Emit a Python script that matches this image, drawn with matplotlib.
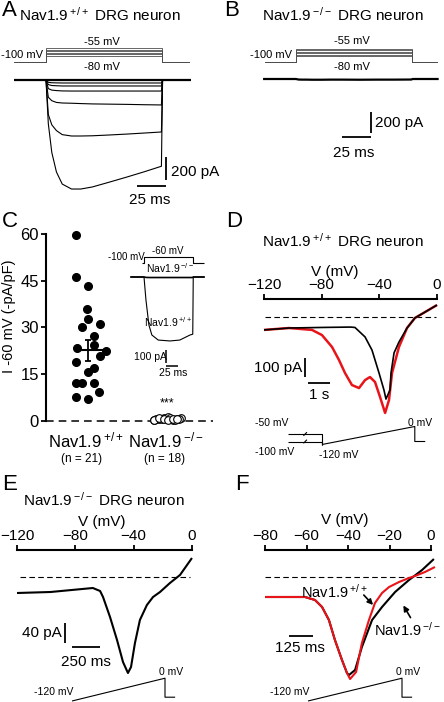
import matplotlib
matplotlib.use('Agg')
import matplotlib.pyplot as plt

plt.rcParams['font.family'] = ['Liberation Sans Narrow', 'Liberation Sans', 'DejaVu Sans']
plt.rcParams['mathtext.default'] = 'regular'

W, H = 444, 702
RED = '#e8141a'

# ---- A / B : step protocol and currents (ms, mV, pA) ----
hold_mv = -100
step_mv = [-80, -75, -70, -65, -60, -55]
t_step = [-27, 0, 2, 5, 9, 14, 22, 30, 40, 55, 70, 85, 99.5, 100.5, 125]
a_i80 = [0, 0, -20, -24, -25, -26, -26, -26, -26, -26, -26, -26, -26, 0, 0]
a_i75 = [0, 0, -40, -48, -50, -52, -52, -52, -52, -52, -52, -52, -52, 0, 0]
a_i70 = [0, 0, -75, -88, -92, -95, -96, -96, -96, -96, -96, -96, -96, 0, 0]
a_i65 = [0, 0, -150, -180, -195, -200, -202, -205, -208, -210, -212, -215, -217, 0, 0]
a_i60 = [0, 0, -300, -390, -440, -475, -487, -487, -485, -478, -470, -461, -452, 0, 0]
a_i55 = [0, 0, -380, -630, -800, -905, -948, -948, -930, -887, -843, -797, -750, 0, 0]
b_i = [0, 0, -5, -6, -6, -7, -7, -6, -6, -7, -6, -6, -5, 0, 0]

# ---- C : current density at -60 mV (-pA/pF) ----
c_wt = [59.6, 46.2, 43.3, 35.9, 32.7, 31.1, 30.1, 27.2, 24.4, 23.4, 22.4,
        20.8, 18.9, 17.0, 15.7, 12.2, 12.2, 12.2, 9.3, 7.7, 7.1]
c_ko = [0.3, 0.6, 0.9, 1.2, 0.4, 0.7, 1.0, 0.5, 0.8, 1.1, 0.2, 0.6,
        0.3, 0.9, 0.5, 0.4, 0.8, 0.6]
c_wt_mean, c_wt_sem = 22.7, 3.4
c_groups = ['Nav1.9$\\,^{+/+}$', 'Nav1.9$\\,^{-/-}$']
c_n = ['(n = 21)', '(n = 18)']
# inset (-60 mV step, 100 ms)
ci_t = [-28, 0, 4, 10, 16, 29, 53, 73, 94, 99.5, 100.5, 124]
ci_wt = [0, 0, -177, -369, -446, -485, -492, -485, -446, -440, 0, 0]
ci_ko = [0, 0, -3, -4, -4, -4, -4, -4, -4, -4, 0, 0]

# ---- D : ramp currents, Nav1.9+/+ (mV, pA) ----
d_v_k = [-120, -102.6, -80, -60, -56.9, -49.9, -45.1, -40.2, -36.8, -35.4,
         -32.6, -31.9, -29.8, -26.4, -20.8, -15.3, -8.3, 0]
d_i_k = [-68, -58, -55, -53, -55, -105, -174, -295, -384, -432,
         -384, -295, -189, -132, -58, -5, 26, 63]
d_v_r = [-120, -102.6, -86.7, -79.8, -72.8, -68, -63.8, -59, -54.1, -49.9,
         -46.5, -43, -39.5, -36, -33.3, -31.2, -26.4, -20.8, -15.3, -8.3, 0]
d_i_r = [-68, -58, -68, -95, -158, -226, -295, -358, -374, -332,
         -316, -342, -421, -505, -437, -295, -158, -58, -5, 26, 63]
d_ramp_s = 8.0

# ---- E : ramp current, Nav1.9-/- (mV, pA) ----
e_v = [-120, -97, -68, -63, -61, -56.2, -51.4, -47.3, -43.9, -41.8, -39.1,
       -35.7, -30.9, -26.7, -21.9, -15.1, -8.2, 0]
e_i = [-32, -30, -22, -28, -40, -80, -126, -170, -192, -180, -132,
       -86, -56, -40, -30, -12, 4, 38]
e_ramp_ms = 1560

# ---- F : normalised ramp currents ----
f_v_k = [-80, -60.7, -55.9, -52.5, -49.2, -46.3, -42.9, -40.5, -39.5, -36.6,
         -33.3, -28.4, -23.6, -17.3, -10.6, -4.3, 1.4]
f_i_k = [-0.20, -0.20, -0.23, -0.30, -0.43, -0.63, -0.83, -0.96, -0.98, -0.93,
         -0.70, -0.43, -0.30, -0.15, -0.03, 0.07, 0.18]
f_v_r = [-80, -60.7, -55.9, -52.5, -49.2, -46.3, -42.9, -40.5, -39.0, -36.1,
         -33.3, -29.9, -27.0, -23.6, -20.2, -15.4, -10.6, -7.7, -2.9, 1.9]
f_i_r = [-0.20, -0.20, -0.23, -0.30, -0.43, -0.63, -0.83, -0.96, -1.02, -0.95,
         -0.66, -0.43, -0.26, -0.16, -0.10, -0.05, -0.01, 0.01, 0.05, 0.10]
f_ramp_ms = 1300

WT_TITLE = 'Nav1.9$\\,^{+/+}$ DRG neuron'
KO_TITLE = 'Nav1.9$\\,^{-/-}$ DRG neuron'

fig = plt.figure(figsize=(W / 100, H / 100), dpi=100)


def put(px, py, s, size=8, ha='center', va='center', **kw):
    fig.text(px / W, 1 - py / H, s, fontsize=size, ha=ha, va=va, **kw)


def make_ax(rect, xref, sx, yref, sy):
    # rect = image pixels (left, top, right, bottom); xref/yref = (pixel, value)
    l, t, r, b = rect
    ax = fig.add_axes([l / W, 1 - b / H, (r - l) / W, (b - t) / H])
    ax.set_xlim(xref[1] + (l - xref[0]) / sx, xref[1] + (r - xref[0]) / sx)
    ax.set_ylim(yref[1] - (b - yref[0]) / sy, yref[1] + (yref[0] - t) / sy)
    ax.patch.set_visible(False)
    for s in ax.spines.values():
        s.set_visible(False)
    ax.set_xticks([])
    ax.set_yticks([])
    return ax


def line(ax, x, y, **kw):
    kw.setdefault('color', 'k')
    kw.setdefault('lw', 1.0)
    ax.plot(x, y, clip_on=False, solid_capstyle='butt', **kw)


# panel letters
for lab, px, py in [('A', 2, 11), ('B', 224, 11), ('C', 2, 221),
                    ('D', 226, 221), ('E', 2, 484), ('F', 235, 484)]:
    put(px, py, lab, size=16, ha='left')

# ================= A =================
put(100, 15, WT_TITLE, size=11)
apA = make_ax((10, 40, 200, 66), (46, 0), 1.16, (62, hold_mv), 0.311)
for v in step_mv:
    line(apA, [-27.6, 0, 0, 100, 100, 123], [hold_mv, hold_mv, v, v, hold_mv, hold_mv],
         color='0.3', lw=0.6)
put(22, 55, '-100 mV', size=8)
put(102, 42, '-55 mV', size=8)
put(102, 67, '-80 mV', size=8)

axA = make_ax((10, 66, 200, 200), (46, 0), 1.16, (80, 0), 0.115)
for tr in [a_i80, a_i75, a_i70, a_i65, a_i60, a_i55]:
    line(axA, t_step, tr, lw=0.8)
line(axA, [-28, 125], [0, 0], lw=1.6)
line(axA, [103.4, 103.4], [-670, -870], lw=1.3)
line(axA, [78.4, 103.4], [-922, -922], lw=1.3)
put(171, 172, '200 pA', size=11, ha='left')
put(150, 200, '25 ms', size=11)

# ================= B =================
put(343, 15, KO_TITLE, size=11)
apB = make_ax((250, 40, 444, 66), (296, 0), 1.16, (62, hold_mv), 0.289)
for v in step_mv:
    line(apB, [-26.7, 0, 0, 100, 100, 121.5], [hold_mv, hold_mv, v, v, hold_mv, hold_mv],
         color='0.3', lw=0.6)
put(271, 55, '-100 mV', size=8)
put(352, 41, '-55 mV', size=8)
put(352, 67, '-80 mV', size=8)

axB = make_ax((250, 66, 444, 200), (296, 0), 1.16, (79, 0), 0.105)
line(axB, [-28.4] + t_step[1:-1] + [123], b_i, lw=1.6)
line(axB, [64.5, 64.5], [-314, -514], lw=1.3)
line(axB, [39.5, 64.5], [-552, -552], lw=1.3)
put(375, 123, '200 pA', size=11, ha='left')
put(354, 153, '25 ms', size=11)

# ================= C =================
axC = make_ax((46, 228, 215, 425), (88, 0), 79, (421, 0), 3.12)
axC.spines['left'].set_visible(True)
axC.spines['left'].set_linewidth(1.5)
axC.spines['left'].set_bounds(0, 60)
axC.set_yticks([0, 15, 30, 45, 60])
axC.tick_params(axis='y', labelsize=12, length=3.6, width=1.3, pad=1.5)
line(axC, [-0.53, 1.58], [0, 0], lw=1.1, ls=(0, (5, 3.3)))
wt_dx = [-12, -12, 0, -1, 0, 12, -6, 6, 6, -11, 18, 12, -12, 6, 0, -12, -6, 6, 11, -12, 0]
axC.plot([d / 79 for d in wt_dx], c_wt, 'o', color='k', ms=5.5, clip_on=False)
ko_dx = [-13, -8, -3, 1, 6, 10, 14, -11, -5, 3, 8, 12, -13, -8, -3, 1, 6, 10]
axC.plot([1 + d / 79 for d in ko_dx], c_ko, 'o', mfc='white', mec='k', mew=0.8,
         ms=5.5, clip_on=False)
line(axC, [-0.16, 0.23], [c_wt_mean, c_wt_mean], lw=1.5)
axC.errorbar(0, c_wt_mean, yerr=c_wt_sem, color='k', capsize=2.5, lw=1.3, capthick=1.3)
put(167, 403, '***', size=9)
put(86, 440, c_groups[0], size=12)
put(166, 440, c_groups[1], size=12)
put(82, 459, c_n[0], size=8.5)
put(165, 459, c_n[1], size=8.5)
put(9, 316, 'I -60 mV (-pA/pF)', size=10.5, rotation=90)

# inset
apC = make_ax((140, 250, 210, 266), (144, 0), 0.49, (263, hold_mv), 0.15)
line(apC, [-4, 0, 0, 100, 100, 122], [hold_mv, hold_mv, -60, -60, hold_mv, hold_mv], lw=0.8)
put(126, 257, '-100 mV', size=7)
put(168, 251, '-60 mV', size=7)
axCi = make_ax((125, 266, 210, 380), (144, 0), 0.49, (277, 0), 0.13)
line(axCi, ci_t, ci_ko, lw=1.2)
line(axCi, ci_t, ci_wt, lw=0.8)
line(axCi, [44.9, 44.9], [-562, -662], lw=1.1)
line(axCi, [44.9, 70.4], [-685, -685], lw=1.1)
put(170, 268, 'Nav1.9$\\,^{-/-}$', size=7.5)
put(168, 322, 'Nav1.9$\\,^{+/+}$', size=7.5)
put(150, 357, '100 pA', size=7.5)
put(173, 373, '25 ms', size=7.5)

# ================= D =================
put(343, 241, WT_TITLE, size=11)
put(335, 272, 'V (mV)', size=11)
axD = make_ax((264, 299, 437, 420), (264, -120), 1.442, (317, 0), 0.19)
axD.spines['top'].set_visible(True)
axD.spines['top'].set_linewidth(1.5)
axD.xaxis.tick_top()
axD.set_xticks([-120, -80, -40, 0])
axD.tick_params(axis='x', labelsize=11, length=3.6, width=1.3, pad=1.5)
line(axD, [-119, -1], [0, 0], lw=0.8, ls=(0, (5, 3)))
line(axD, d_v_r, d_i_r, color=RED, lw=1.8)
line(axD, d_v_k, d_i_k, lw=1.2)
d_rate = 120 / d_ramp_s  # mV per s
line(axD, [-91.5, -91.5], [-216, -316], lw=1.3)
line(axD, [-89.5, -89.5 + d_rate], [-347, -347], lw=1.3)
put(302, 368, '100 pA', size=11, ha='right')
put(319, 395, '1 s', size=11)

apD = make_ax((250, 420, 440, 460), (322, 0), 11.6, (444.5, -120), 0.15)
for v in [-50, -100]:
    line(apD, [-2.9, 0, 0], [v, v, -120], lw=0.8)
    line(apD, [-1.6, -1.3], [v - 12, v + 12], lw=0.8)
line(apD, [0, d_ramp_s, d_ramp_s, d_ramp_s + 0.9], [-120, 0, -100, -100], lw=0.8)
put(272, 423, '-50 mV', size=7.5)
put(275, 452, '-100 mV', size=7.5)
put(339, 455, '-120 mV', size=7.5)
put(420, 423, '0 mV', size=7.5)

# ================= E =================
put(104, 500, KO_TITLE, size=11)
put(102, 522, 'V (mV)', size=11)
axE = make_ax((17, 550, 192, 690), (17, -120), 1.458, (577, 0), 0.5)
axE.spines['top'].set_visible(True)
axE.spines['top'].set_linewidth(1.5)
axE.xaxis.tick_top()
axE.set_xticks([-120, -80, -40, 0])
axE.tick_params(axis='x', labelsize=11, length=3.6, width=1.3, pad=1.5)
line(axE, [-118, -1.5], [0, 0], lw=0.8, ls=(0, (5, 3)))
line(axE, e_v, e_i, lw=1.5)
e_rate = 120 / e_ramp_ms  # mV per ms
line(axE, [-87.1, -87.1], [-92, -132], lw=1.3)
line(axE, [-82.3, -82.3 + 250 * e_rate], [-140, -140], lw=1.3)
put(62, 633, '40 pA', size=11, ha='right')
put(86, 662, '250 ms', size=11)

apE = make_ax((30, 670, 200, 702), (72, 0), 93 / e_ramp_ms, (701, -120), 0.19)
line(apE, [0, e_ramp_ms, e_ramp_ms, e_ramp_ms + 170], [-120, 0, -100, -100], lw=0.8)
put(54, 692, '-120 mV', size=7.5)
put(171, 672, '0 mV', size=7.5)

# ================= F =================
put(345, 520, 'V (mV)', size=11)
axF = make_ax((265, 550, 431, 690), (265, -80), 2.075, (577, 0), 100)
axF.spines['top'].set_visible(True)
axF.spines['top'].set_linewidth(1.5)
axF.xaxis.tick_top()
axF.set_xticks([-80, -60, -40, -20, 0])
axF.tick_params(axis='x', labelsize=11, length=3.6, width=1.3, pad=1.5)
line(axF, [-80, 2], [0, 0], lw=0.8, ls=(0, (5, 3)))
line(axF, f_v_k, f_i_k, lw=1.5)
line(axF, f_v_r, f_i_r, color=RED, lw=1.5)
f_rate = 120 / f_ramp_ms
line(axF, [-68.2, -68.2 + 125 * f_rate], [-0.59, -0.59], lw=1.3)
put(300, 648, '125 ms', size=11)
put(335, 592, 'Nav1.9$\\,^{+/+}$', size=10.5)
put(441, 630, 'Nav1.9$\\,^{-/-}$', size=10.5, ha='right')
axF.annotate('', xy=(-27, -0.30), xytext=(-33.3, -0.16),
             arrowprops=dict(arrowstyle='-|>', lw=1.2, color='k', mutation_scale=8))
axF.annotate('', xy=(-14, -0.26), xytext=(-9.2, -0.43),
             arrowprops=dict(arrowstyle='-|>', lw=1.2, color='k', mutation_scale=8))

apF = make_ax((260, 670, 440, 702), (308, 0), 94 / f_ramp_ms, (701, -120), 0.19)
line(apF, [0, f_ramp_ms, f_ramp_ms, f_ramp_ms + 140], [-120, 0, -100, -100], lw=0.8)
put(290, 692, '-120 mV', size=7.5)
put(408, 672, '0 mV', size=7.5)

fig.savefig('out.png', dpi=100)
